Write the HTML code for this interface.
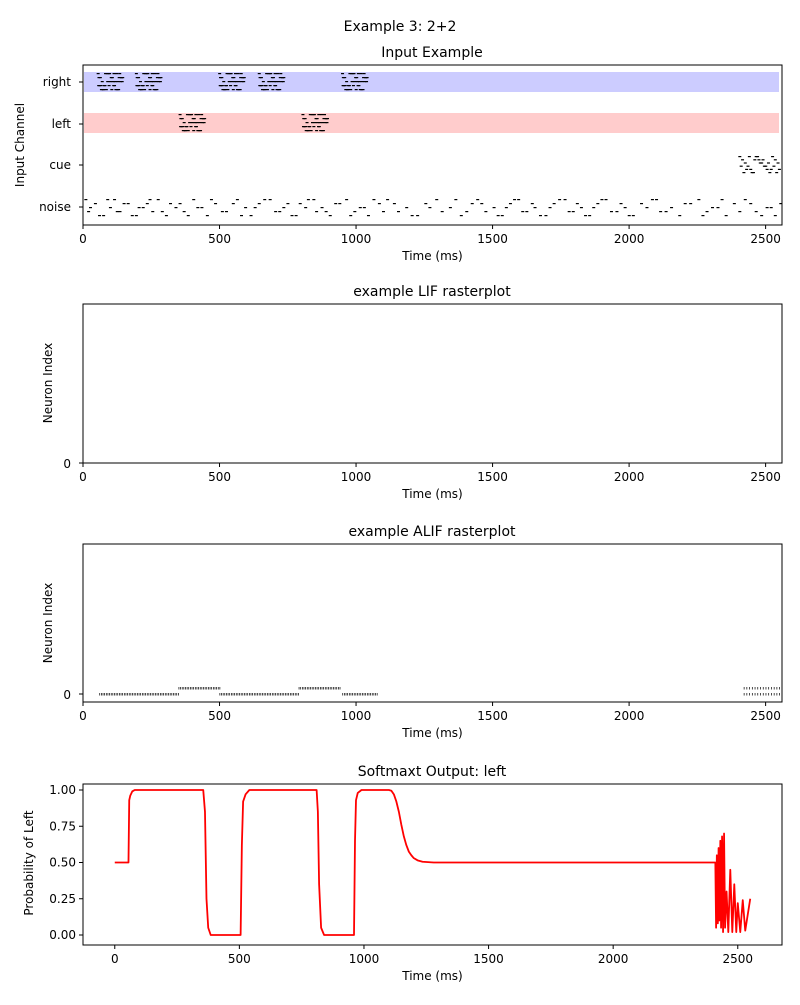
<!DOCTYPE html>
<html><head><meta charset="utf-8">
<style>
body{margin:0;background:#fff;}
svg text{font-family:"DejaVu Sans","Liberation Sans",sans-serif;fill:#000;}
</style></head>
<body>
<svg id="fig" width="800" height="1000" xmlns="http://www.w3.org/2000/svg"></svg>
<script>
// ---- data ----
const channelLabels = ["right","left","cue","noise"];
const rightBursts = [50, 190, 495, 640, 945];
const leftBursts = [350, 800];
const cueBursts = [2400];
const burstDt = [0,8,15,22,30,38,45,52,60,68,75,82,90,5,12,27,35,48,57,65,79,88,3,18,25,42,55,70,85,10,33,50,62,77,20,40,58,72,86,2];
const burstRow = [0,1,2,3,4,0,2,1,3,0,4,2,1,3,4,0,2,1,3,4,0,2,1,4,3,0,2,4,1,3,0,4,2,1,4,3,0,2,1,3];
const cueDt = [0,10,20,30,40,50,60,70,80,90,100,110,120,130,140,5,25,45,65,85,105,125,145,15,35,55,75,95,115,135];
const cueRow = [0,1,2,3,4,5,0,1,2,3,4,5,0,1,2,3,4,5,0,1,2,3,4,5,0,1,2,3,4,5];
const noiseTimes = [5,15,40,70,95,110,130,160,175,200,230,250,270,300,335,350,365,400,430,450,480,520,560,590,610,640,660,700,730,760,790,820,850,870,900,935,960,990,1010,1040,1080,1110,1150,1180,1220,1250,1290,1310,1340,1380,1420,1440,1470,1500,1530,1560,1590,1620,1650,1690,1720,1760,1790,1820,1850,1880,1910,1950,1980,2010,2040,2080,2110,2150,2180,2220,2250,2280,2320,2350,2380,2420,2460,2500,2530,2550,
  22,55,85,120,145,190,215,240,285,315,380,415,465,505,545,575,625,680,715,745,775,810,840,885,920,975,1025,1060,1095,1135,1200,1265,1360,1400,1455,1515,1545,1575,1605,1640,1670,1705,1740,1775,1805,1835,1865,1895,1930,1965,1995,2060,2095,2130,2200,2265,2300,2335,2400,2440,2480,2515];
const noiseRow = [0,3,1,4,2,0,3,1,4,2,1,3,0,4,2,1,3,0,2,4,1,3,0,2,4,1,0,3,2,4,1,0,3,2,4,1,0,3,2,4,1,0,3,2,4,1,0,3,2,4,1,0,3,2,4,1,0,3,2,4,1,0,3,2,4,1,0,3,2,4,1,0,3,2,4,1,0,3,2,4,1,0,3,2,4,1,
  2,4,0,3,1,4,2,0,3,1,4,2,0,3,1,4,2,0,3,1,4,2,0,3,1,4,2,0,3,1,4,2,0,3,1,4,2,0,3,1,4,2,0,3,1,4,2,0,3,1,4,2,0,3,1,4,2,0,3,1,4,2];
const alifLowSegs = [[60,350],[500,790],[950,1080],[2420,2550]];
const alifHighSegs = [[350,500],[790,940],[2420,2550]];
const alifSpacing = [6,6,6,10];
const probT = [0,55,58,62,70,80,355,362,368,375,385,505,510,515,525,540,810,815,820,828,840,960,964,968,975,990,1100,1110,1120,1130,1140,1150,1160,1170,1180,1190,1200,1215,1235,1280,2410,2413,2416,2420,2423,2426,2430,2433,2437,2441,2445,2449,2455,2462,2470,2478,2486,2494,2500,2510,2520,2530,2550];
const probV = [0.5,0.5,0.93,0.96,0.99,1,1,0.85,0.25,0.05,0,0,0.62,0.92,0.97,1,1,0.85,0.35,0.05,0,0,0.65,0.93,0.98,1,1,0.995,0.97,0.92,0.85,0.76,0.68,0.62,0.575,0.55,0.53,0.515,0.505,0.5,0.5,0.05,0.55,0.08,0.6,0.1,0.65,0.05,0.68,0.02,0.7,0.05,0.3,0.02,0.45,0.02,0.35,0.02,0.22,0.02,0.24,0.03,0.25];
const xTicksTop = [0,500,1000,1500,2000,2500];
const probTicks = [0,0.25,0.5,0.75,1.0];
const probTickLabels = ["0.00","0.25","0.50","0.75","1.00"];

// ---- helpers ----
const svg = document.getElementById('fig');
const NS = "http://www.w3.org/2000/svg";
function mk(tag, attrs, parent){const e=document.createElementNS(NS,tag);for(const k in attrs)e.setAttribute(k,attrs[k]);(parent||svg).appendChild(e);return e;}
function txt(x,y,s,size,anchor,parent,rot){const t=mk('text',{x:x,y:y,'font-size':size,'text-anchor':anchor||'middle'},parent);if(rot)t.setAttribute('transform','rotate(-90 '+x+' '+y+')');t.textContent=s;return t;}

function axesFrame(name,x0,y0,x1,y1,xs,ticks,labels){
  const g=mk('g',{});
  
  
  mk('rect',{x:x0,y:y0,width:x1-x0,height:y1-y0,fill:'none',stroke:'#000','stroke-width':1},g);
  ticks.forEach((v,i)=>{const x=xs(v);mk('line',{x1:x,x2:x,y1:y1,y2:y1+4,stroke:'#000'},g);
    const t=txt(x,y1+18,labels?labels[i]:String(v),12,'middle',g);
    
    });
  const xl=txt((x0+x1)/2,y1+35,'Time (ms)',12,'middle',g);
  
  
  return g;
}

const title=txt(400,31,'Example 3: 2+2',14);



// ---- panel 1 ----
const x1s = v => 83 + v*(699/2560);
const rowY = [82,124,165,207];
const p1 = axesFrame('input-example-panel',83,65,782,225,x1s,xTicksTop);
const t1=txt(432,57,'Input Example',14,'middle',p1);


const bandR=mk('rect',{x:84,y:72,width:695,height:20,fill:'#ccccff'},p1);


const bandL=mk('rect',{x:84,y:113,width:695,height:20,fill:'#ffcccc'},p1);


channelLabels.forEach((s,i)=>{mk('line',{x1:79,x2:83,y1:rowY[i],y2:rowY[i],stroke:'#000'},p1);
  const t=txt(71,rowY[i]+4,s,12,'end',p1);
  
  });
const yl1=txt(24,145,'Input Channel',12,'middle',p1,true);


function spike(t,y,g){const r=mk('rect',{x:x1s(t),y:y,width:3,height:1.2,fill:'#000'},g);return r;}
function bursts(starts,top,name){const g=mk('g',{},p1);
  
  
  starts.forEach(s=>burstDt.forEach((d,i)=>spike(s+d,top+burstRow[i]*4,g)));}
bursts(rightBursts,73,'right-spikes');
bursts(leftBursts,114,'left-spikes');
const gc=mk('g',{},p1);


cueBursts.forEach(s=>cueDt.forEach((d,i)=>spike(s+d,156+cueRow[i]*3.2,gc)));
const gn=mk('g',{},p1);


noiseTimes.forEach((t,i)=>spike(t,199+noiseRow[i]*4,gn));

// ---- panel 2 ----
const p2=axesFrame('lif-raster-panel',83,304,782,463,x1s,xTicksTop);
const t2=txt(432,296,'example LIF rasterplot',14,'middle',p2);


mk('line',{x1:79,x2:83,y1:463,y2:463,stroke:'#000'},p2);
txt(71,468,'0',12,'end',p2);
const yl2=txt(52,383,'Neuron Index',12,'middle',p2,true);



// ---- panel 3 ----
const p3=axesFrame('alif-raster-panel',83,544,782,702,x1s,xTicksTop);
const t3=txt(432,536,'example ALIF rasterplot',14,'middle',p3);


mk('line',{x1:79,x2:83,y1:694,y2:694,stroke:'#000'},p3);
txt(71,699,'0',12,'end',p3);
const yl3=txt(52,623,'Neuron Index',12,'middle',p3,true);


function alifRow(segs,y,name){const g=mk('g',{},p3);
  
  
  segs.forEach((sg,k)=>{const step=(k===segs.length-1)?alifSpacing[3]:alifSpacing[0];
    for(let t=sg[0];t<=sg[1];t+=step){mk('rect',{x:x1s(t),y:y,width:0.7,height:2.5,fill:'#000'},g);}});}
alifRow(alifLowSegs,693,'alif-neuron-0-spikes');
alifRow(alifHighSegs,687,'alif-neuron-1-spikes');

// ---- panel 4 ----
const x4s = v => 83 + (v+127.5)*(699/2805);
const y4s = v => 935 - v*145;
const p4=axesFrame('softmax-panel',83,784,782,945,x4s,xTicksTop);
const t4=txt(432,776,'Softmaxt Output: left',14,'middle',p4);


probTicks.forEach((v,i)=>{mk('line',{x1:79,x2:83,y1:y4s(v),y2:y4s(v),stroke:'#000'},p4);
  const t=txt(76,y4s(v)+4,probTickLabels[i],12,'end',p4);
  
  });
const yl4=txt(33,863,'Probability of Left',12,'middle',p4,true);


const d=probT.map((t,i)=>(i?'L':'M')+x4s(t).toFixed(2)+' '+y4s(probV[i]).toFixed(2)).join(' ');
const line=mk('path',{d:d,fill:'none',stroke:'#ff0000','stroke-width':1.8,'stroke-linejoin':'round'},p4);


</script>
</body></html>
